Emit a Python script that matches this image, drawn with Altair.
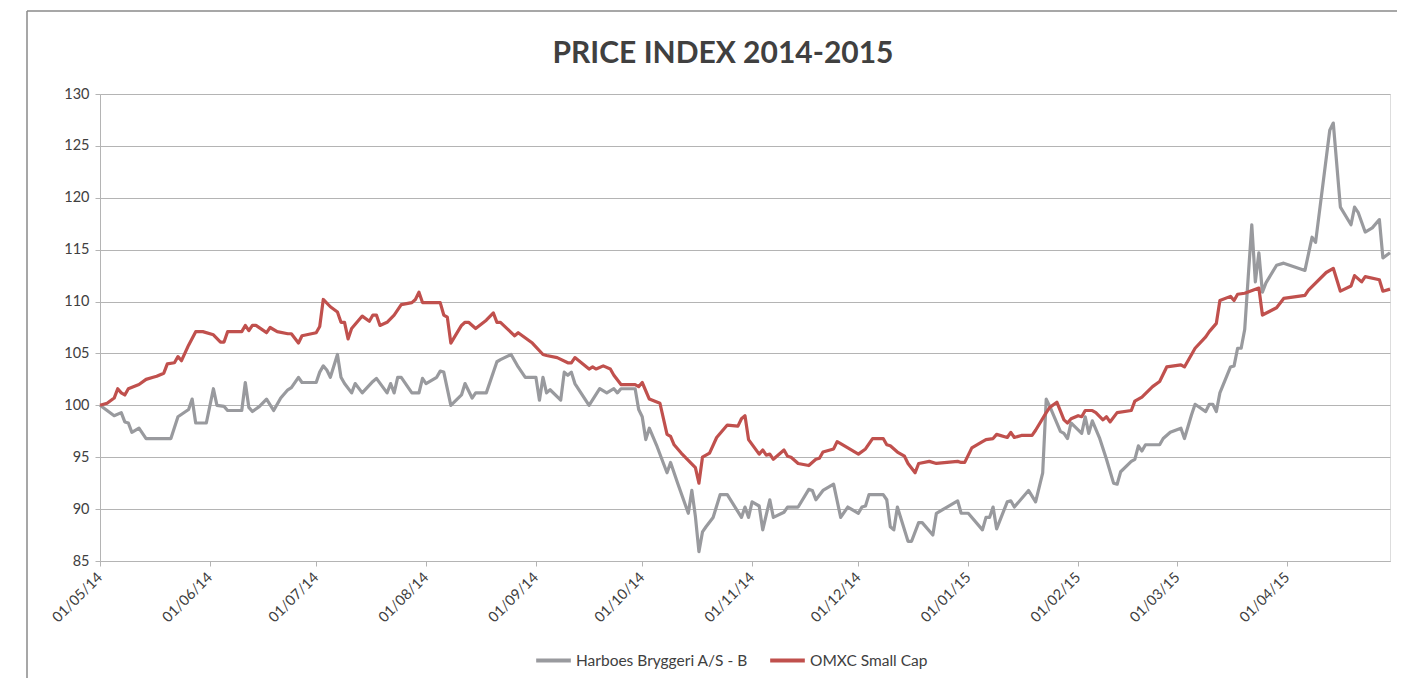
import altair as alt
import pandas as pd

# ---------------- data ----------------
harboes_dates = [
    "2014-05-01", "2014-05-05", "2014-05-07", "2014-05-08", "2014-05-09", "2014-05-10", "2014-05-12",
    "2014-05-14", "2014-05-21", "2014-05-23", "2014-05-26", "2014-05-27", "2014-05-28", "2014-05-31",
    "2014-06-02", "2014-06-03", "2014-06-05", "2014-06-06", "2014-06-10", "2014-06-11", "2014-06-12",
    "2014-06-13", "2014-06-15", "2014-06-17", "2014-06-19", "2014-06-21", "2014-06-23", "2014-06-24",
    "2014-06-26", "2014-06-27", "2014-07-01", "2014-07-02", "2014-07-03", "2014-07-04", "2014-07-05",
    "2014-07-07", "2014-07-08", "2014-07-09", "2014-07-11", "2014-07-12", "2014-07-14", "2014-07-17",
    "2014-07-18", "2014-07-21", "2014-07-22", "2014-07-23", "2014-07-24", "2014-07-25", "2014-07-28",
    "2014-07-30", "2014-07-31", "2014-08-01", "2014-08-04", "2014-08-05", "2014-08-06", "2014-08-08",
    "2014-08-11", "2014-08-12", "2014-08-14", "2014-08-15", "2014-08-18", "2014-08-21", "2014-08-22",
    "2014-08-25", "2014-08-27", "2014-08-28", "2014-08-29", "2014-09-01", "2014-09-02", "2014-09-03",
    "2014-09-04", "2014-09-05", "2014-09-08", "2014-09-09", "2014-09-10", "2014-09-11", "2014-09-12",
    "2014-09-16", "2014-09-19", "2014-09-21", "2014-09-23", "2014-09-24", "2014-09-25", "2014-09-29",
    "2014-09-30", "2014-10-01", "2014-10-02", "2014-10-03", "2014-10-05", "2014-10-07", "2014-10-08",
    "2014-10-09", "2014-10-11", "2014-10-14", "2014-10-15", "2014-10-16", "2014-10-17", "2014-10-18",
    "2014-10-19", "2014-10-21", "2014-10-23", "2014-10-25", "2014-10-29", "2014-10-30", "2014-10-31",
    "2014-11-01", "2014-11-03", "2014-11-04", "2014-11-06", "2014-11-07", "2014-11-10", "2014-11-11",
    "2014-11-14", "2014-11-17", "2014-11-18", "2014-11-19", "2014-11-21", "2014-11-24", "2014-11-26",
    "2014-11-28", "2014-12-01", "2014-12-02", "2014-12-03", "2014-12-04", "2014-12-08", "2014-12-09",
    "2014-12-10", "2014-12-11", "2014-12-12", "2014-12-15", "2014-12-16", "2014-12-18", "2014-12-19",
    "2014-12-22", "2014-12-23", "2014-12-26", "2014-12-29", "2014-12-30", "2015-01-01", "2015-01-05",
    "2015-01-06", "2015-01-07", "2015-01-08", "2015-01-09", "2015-01-12", "2015-01-13", "2015-01-14",
    "2015-01-18", "2015-01-20", "2015-01-22", "2015-01-23", "2015-01-24", "2015-01-27", "2015-01-28",
    "2015-01-29", "2015-01-30", "2015-02-02", "2015-02-03", "2015-02-04", "2015-02-05", "2015-02-07",
    "2015-02-09", "2015-02-11", "2015-02-12", "2015-02-13", "2015-02-16", "2015-02-17", "2015-02-18",
    "2015-02-19", "2015-02-20", "2015-02-24", "2015-02-25", "2015-02-27", "2015-03-02", "2015-03-03",
    "2015-03-05", "2015-03-06", "2015-03-09", "2015-03-10", "2015-03-11", "2015-03-12", "2015-03-13",
    "2015-03-16", "2015-03-17", "2015-03-18", "2015-03-19", "2015-03-20", "2015-03-21", "2015-03-22",
    "2015-03-23", "2015-03-24", "2015-03-25", "2015-03-26", "2015-03-29", "2015-03-31", "2015-04-06",
    "2015-04-08", "2015-04-09", "2015-04-13", "2015-04-14", "2015-04-16", "2015-04-19", "2015-04-20",
    "2015-04-21", "2015-04-23", "2015-04-25", "2015-04-27", "2015-04-28", "2015-04-30",
]
harboes_values = [
    100.0, 99.0, 99.3, 98.4, 98.3, 97.4, 97.8,
    96.8, 96.8, 98.9, 99.6, 100.6, 98.3, 98.3,
    101.6, 100.0, 99.9, 99.5, 99.5, 102.2, 99.8,
    99.4, 99.9, 100.6, 99.5, 100.7, 101.5, 101.7,
    102.7, 102.2, 102.2, 103.2, 103.8, 103.4, 102.7,
    104.9, 102.7, 102.1, 101.2, 102.1, 101.2, 102.3,
    102.6, 101.2, 102.1, 101.2, 102.7, 102.7, 101.2,
    101.2, 102.6, 102.1, 102.7, 103.3, 103.2, 100.0,
    101.0, 102.1, 100.7, 101.2, 101.2, 104.2, 104.4,
    104.9, 103.7, 103.2, 102.7, 102.7, 100.5, 102.7,
    101.2, 101.5, 100.5, 103.2, 102.9, 103.2, 102.1,
    100.0, 101.6, 101.2, 101.6, 101.2, 101.6, 101.6,
    99.6, 98.9, 96.7, 97.8, 96.2, 94.4, 93.5,
    94.5, 92.5, 89.6, 91.8, 89.3, 85.9, 87.8,
    88.3, 89.2, 91.4, 91.4, 89.2, 90.2, 89.2,
    90.7, 90.3, 88.0, 90.9, 89.2, 89.7, 90.2,
    90.2, 91.9, 91.8, 90.9, 91.8, 92.4, 89.2,
    90.2, 89.6, 90.2, 90.3, 91.4, 91.4, 90.9,
    88.3, 88.0, 90.2, 86.9, 86.9, 88.7, 88.7,
    87.5, 89.6, 90.2, 90.8, 89.6, 89.6, 88.0,
    89.2, 89.2, 90.2, 88.1, 90.7, 90.8, 90.2,
    91.8, 90.7, 93.5, 100.6, 99.9, 97.5, 97.3,
    96.8, 98.3, 97.3, 98.9, 97.3, 98.5, 96.9,
    94.8, 92.5, 92.4, 93.6, 94.6, 94.8, 96.1,
    95.6, 96.2, 96.2, 96.8, 97.4, 97.8, 96.8,
    99.1, 100.1, 99.4, 100.1, 100.1, 99.4, 101.2,
    103.7, 103.8, 105.5, 105.5, 107.3, 112.4, 117.4,
    111.9, 114.7, 110.9, 111.8, 113.5, 113.7, 113.0,
    116.2, 115.7, 126.5, 127.2, 119.1, 117.4, 119.1,
    118.6, 116.7, 117.1, 117.9, 114.2, 114.7,
]

omxc_dates = [
    "2014-05-01", "2014-05-03", "2014-05-05", "2014-05-06", "2014-05-07", "2014-05-08", "2014-05-09",
    "2014-05-12", "2014-05-14", "2014-05-16", "2014-05-17", "2014-05-19", "2014-05-20", "2014-05-22",
    "2014-05-23", "2014-05-24", "2014-05-26", "2014-05-28", "2014-05-30", "2014-06-02", "2014-06-04",
    "2014-06-05", "2014-06-06", "2014-06-10", "2014-06-11", "2014-06-12", "2014-06-13", "2014-06-14",
    "2014-06-17", "2014-06-18", "2014-06-20", "2014-06-23", "2014-06-24", "2014-06-26", "2014-06-27",
    "2014-07-01", "2014-07-02", "2014-07-03", "2014-07-05", "2014-07-07", "2014-07-08", "2014-07-09",
    "2014-07-10", "2014-07-11", "2014-07-14", "2014-07-16", "2014-07-17", "2014-07-18", "2014-07-19",
    "2014-07-21", "2014-07-23", "2014-07-25", "2014-07-28", "2014-07-29", "2014-07-30", "2014-07-31",
    "2014-08-05", "2014-08-06", "2014-08-07", "2014-08-08", "2014-08-11", "2014-08-12", "2014-08-13",
    "2014-08-15", "2014-08-18", "2014-08-20", "2014-08-21", "2014-08-22", "2014-08-26", "2014-08-27",
    "2014-08-31", "2014-09-03", "2014-09-04", "2014-09-07", "2014-09-10", "2014-09-11", "2014-09-12",
    "2014-09-16", "2014-09-17", "2014-09-18", "2014-09-20", "2014-09-22", "2014-09-23", "2014-09-25",
    "2014-09-29", "2014-09-30", "2014-10-01", "2014-10-03", "2014-10-06", "2014-10-08", "2014-10-09",
    "2014-10-10", "2014-10-12", "2014-10-16", "2014-10-17", "2014-10-18", "2014-10-20", "2014-10-22",
    "2014-10-25", "2014-10-28", "2014-10-29", "2014-10-30", "2014-10-31", "2014-11-03", "2014-11-04",
    "2014-11-05", "2014-11-06", "2014-11-07", "2014-11-10", "2014-11-11", "2014-11-12", "2014-11-14",
    "2014-11-17", "2014-11-19", "2014-11-20", "2014-11-21", "2014-11-24", "2014-11-25", "2014-11-26",
    "2014-12-01", "2014-12-03", "2014-12-05", "2014-12-08", "2014-12-09", "2014-12-10", "2014-12-12",
    "2014-12-14", "2014-12-15", "2014-12-17", "2014-12-18", "2014-12-21", "2014-12-23", "2014-12-29",
    "2014-12-30", "2014-12-31", "2015-01-02", "2015-01-05", "2015-01-06", "2015-01-08", "2015-01-09",
    "2015-01-12", "2015-01-13", "2015-01-14", "2015-01-16", "2015-01-19", "2015-01-20", "2015-01-23",
    "2015-01-24", "2015-01-26", "2015-01-28", "2015-01-29", "2015-01-30", "2015-02-01", "2015-02-02",
    "2015-02-03", "2015-02-05", "2015-02-06", "2015-02-08", "2015-02-09", "2015-02-10", "2015-02-12",
    "2015-02-16", "2015-02-17", "2015-02-19", "2015-02-22", "2015-02-24", "2015-02-26", "2015-03-02",
    "2015-03-03", "2015-03-06", "2015-03-09", "2015-03-10", "2015-03-12", "2015-03-13", "2015-03-16",
    "2015-03-17", "2015-03-18", "2015-03-20", "2015-03-24", "2015-03-25", "2015-03-29", "2015-03-31",
    "2015-04-06", "2015-04-07", "2015-04-12", "2015-04-14", "2015-04-16", "2015-04-19", "2015-04-20",
    "2015-04-22", "2015-04-23", "2015-04-27", "2015-04-28", "2015-04-30",
]
omxc_values = [
    100.0, 100.2, 100.7, 101.6, 101.2, 101.0, 101.6,
    102.0, 102.5, 102.7, 102.8, 103.1, 104.0, 104.1,
    104.7, 104.3, 105.8, 107.1, 107.1, 106.8, 106.1,
    106.1, 107.1, 107.1, 107.7, 107.2, 107.7, 107.7,
    107.0, 107.5, 107.1, 106.9, 106.9, 106.0, 106.7,
    107.0, 107.6, 110.2, 109.5, 109.0, 108.0, 108.0,
    106.4, 107.4, 108.6, 108.1, 108.7, 108.7, 107.7,
    108.0, 108.7, 109.7, 109.9, 110.2, 110.9, 109.9,
    109.9, 108.7, 108.5, 106.0, 107.7, 108.0, 108.0,
    107.4, 108.2, 108.9, 108.0, 108.0, 106.7, 107.0,
    106.0, 104.9, 104.8, 104.6, 104.1, 104.1, 104.6,
    103.5, 103.7, 103.5, 103.8, 103.5, 102.9, 102.0,
    102.0, 101.8, 102.2, 100.6, 100.2, 97.2, 97.0,
    96.2, 95.4, 94.0, 92.5, 95.0, 95.4, 96.9,
    98.1, 98.0, 98.7, 99.0, 96.7, 95.3, 95.7,
    95.2, 95.3, 94.8, 95.7, 95.1, 95.0, 94.4,
    94.2, 94.8, 94.9, 95.5, 95.8, 96.5, 96.3,
    95.3, 95.8, 96.8, 96.8, 96.2, 96.1, 95.5,
    95.1, 94.4, 93.5, 94.4, 94.6, 94.4, 94.6,
    94.5, 94.5, 95.9, 96.5, 96.7, 96.8, 97.2,
    96.9, 97.4, 96.9, 97.1, 97.1, 97.6, 99.3,
    99.8, 100.3, 98.6, 98.3, 98.7, 99.0, 98.9,
    99.5, 99.5, 99.3, 98.6, 98.9, 98.4, 99.3,
    99.5, 100.4, 100.8, 101.8, 102.3, 103.7, 103.9,
    103.7, 105.5, 106.6, 107.1, 107.9, 110.1, 110.5,
    110.1, 110.7, 110.8, 111.3, 108.7, 109.4, 110.3,
    110.6, 111.1, 112.8, 113.2, 111.0, 111.5, 112.5,
    111.9, 112.4, 112.1, 111.0, 111.2,
]

series_names = ["Harboes Bryggeri A/S - B", "OMXC Small Cap"]
series_colors = ["#999a9e", "#c0504d"]
y_ticks = [85, 90, 95, 100, 105, 110, 115, 120, 125, 130]
tick_months = [(2014, m) for m in range(5, 13)] + [(2015, m) for m in range(1, 5)]
title_text = "PRICE INDEX 2014-2015"

# ---------------- build table ----------------
df = pd.concat([
    pd.DataFrame({"date": harboes_dates, "value": harboes_values, "series": series_names[0]}),
    pd.DataFrame({"date": omxc_dates, "value": omxc_values, "series": series_names[1]}),
], ignore_index=True)

FONT = "Lato"
TEXT = "#404040"
GRID = "#b4b4b4"

x_values = [alt.DateTime(year=y, month=m, date=1, utc=True) for y, m in tick_months]

lines = alt.Chart(df).mark_line(strokeWidth=3.2, strokeJoin="round").encode(
    x=alt.X(
        "date:T",
        scale=alt.Scale(
            type="utc",
            domain=[alt.DateTime(year=2014, month=5, date=1, utc=True),
                    alt.DateTime(year=2015, month=4, date=30, utc=True)],
            nice=False,
        ),
        axis=alt.Axis(
            values=x_values, labelExpr="utcFormat(datum.value, '%d/%m/%y')", labelAngle=-45,
            labelAlign="right", labelBaseline="middle", labelPadding=9, tickSize=5,
            tickColor=GRID, domainColor=GRID, grid=False, title=None,
            labelOverlap=False, labelFont=FONT, labelFontSize=14.5, labelColor=TEXT,
        ),
    ),
    y=alt.Y(
        "value:Q",
        scale=alt.Scale(domain=[85, 130], nice=False, zero=False),
        axis=alt.Axis(
            values=y_ticks, grid=True, gridColor=GRID, tickColor=GRID, domainColor=GRID,
            tickSize=5, labelPadding=6, title=None, labelFont=FONT, labelFontSize=14.5,
            labelColor=TEXT,
        ),
    ),
    color=alt.Color(
        "series:N",
        scale=alt.Scale(domain=series_names, range=series_colors),
        legend=alt.Legend(
            title=None, orient="none", legendX=434, legendY=547, direction="horizontal",
            symbolType="stroke", symbolSize=1200, symbolStrokeWidth=4,
            labelFont=FONT, labelFontSize=15.5, labelColor=TEXT, columnPadding=14,
            labelOffset=3, labelLimit=400,
        ),
    ),
)

frame_df = pd.DataFrame({"k": [0]})
frame_top = alt.Chart(frame_df).mark_rule(color="#8a8a8a", strokeWidth=1.5).encode(
    x=alt.value(-73), x2=alt.value(1300), y=alt.value(-83)
)
frame_left = alt.Chart(frame_df).mark_rule(color="#8a8a8a", strokeWidth=1.5).encode(
    x=alt.value(-73), y=alt.value(-83), y2=alt.value(600)
)
title_df = pd.DataFrame({"title": [title_text]})
title_mark = alt.Chart(title_df).mark_text(
    font=FONT, fontSize=30, fontWeight="bold", color=TEXT, align="center",
    baseline="alphabetic",
).encode(text="title:N", x=alt.value(623), y=alt.value(-31))

chart = alt.layer(frame_top, frame_left, title_mark, lines).properties(
    width=1290,
    height=467,
    autosize=alt.AutoSizeParams(type="none"),
    padding={"left": 92, "top": 86, "right": 7, "bottom": 117},
).configure_view(strokeWidth=0).configure(background="white")

chart.save("out.html", embed_options={"renderer": "svg", "actions": False})
